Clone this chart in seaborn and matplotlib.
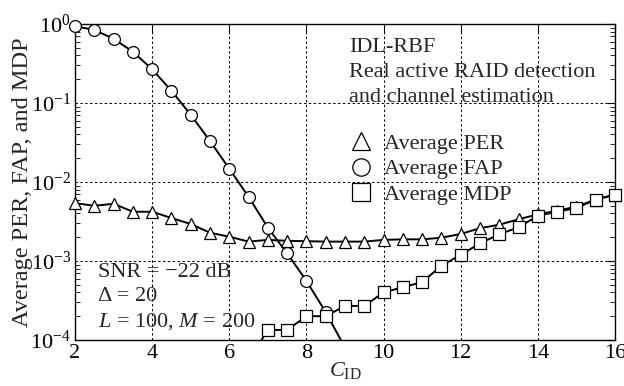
import numpy as np
import pandas as pd
import seaborn as sns
import matplotlib
matplotlib.use("Agg")
import matplotlib.pyplot as plt
from matplotlib.lines import Line2D
from matplotlib.ticker import LogLocator, MultipleLocator

# Channel-ID length sweep
c_id_per = [2, 2.5, 3, 3.5, 4, 4.5, 5, 5.5, 6, 6.5, 7, 7.5, 8, 8.5, 9, 9.5,
            10, 10.5, 11, 11.5, 12, 12.5, 13, 13.5, 14, 14.5, 15, 15.5, 16]
per = [5.4e-3, 5.0e-3, 5.3e-3, 4.2e-3, 4.2e-3, 3.5e-3, 2.94e-3, 2.28e-3, 2.03e-3,
       1.76e-3, 1.85e-3, 1.80e-3, 1.78e-3, 1.76e-3, 1.76e-3, 1.76e-3, 1.85e-3,
       1.88e-3, 1.88e-3, 1.97e-3, 2.2e-3, 2.6e-3, 2.88e-3, 3.37e-3, 3.9e-3,
       4.33e-3, 4.87e-3, 6.0e-3, 6.9e-3]

c_id_fap = [2, 2.5, 3, 3.5, 4, 4.5, 5, 5.5, 6, 6.5, 7, 7.5, 8, 8.5, 9]
fap = [0.94, 0.84, 0.65, 0.446, 0.267, 0.143, 0.071, 0.033, 0.0147, 0.0065,
       2.64e-3, 1.25e-3, 5.6e-4, 2.25e-4, 8.0e-5]

c_id_mdp = [6.5, 7, 7.5, 8, 8.5, 9, 9.5, 10, 10.5, 11, 11.5, 12, 12.5, 13,
            13.5, 14, 14.5, 15, 15.5, 16]
mdp = [5.5e-5, 1.34e-4, 1.34e-4, 2.0e-4, 2.0e-4, 2.7e-4, 2.7e-4, 4.0e-4,
       4.65e-4, 5.4e-4, 8.7e-4, 1.2e-3, 1.67e-3, 2.18e-3, 2.67e-3, 3.74e-3,
       4.2e-3, 4.69e-3, 6.0e-3, 6.9e-3]

series_names = ["Average PER", "Average FAP", "Average MDP"]
series_markers = {"Average PER": "^", "Average FAP": "o", "Average MDP": "s"}

Y_MIN, Y_MAX = 1e-4, 1.0

df = pd.concat([
    pd.DataFrame({"C_ID": c_id_per, "value": per, "series": series_names[0]}),
    pd.DataFrame({"C_ID": c_id_fap, "value": fap, "series": series_names[1]}),
    pd.DataFrame({"C_ID": c_id_mdp, "value": mdp, "series": series_names[2]}),
], ignore_index=True)

sns.set_theme(style="white")
plt.rcParams["font.family"] = ["Liberation Serif", "DejaVu Serif"]
plt.rcParams["mathtext.fontset"] = "custom"
plt.rcParams["mathtext.rm"] = "Liberation Serif"
plt.rcParams["mathtext.it"] = "Liberation Serif:italic"
plt.rcParams["mathtext.bf"] = "Liberation Serif:bold"

fig = plt.figure(figsize=(6.24, 3.86), dpi=100)
ax = fig.add_axes([0.1202, 0.1192, 0.8654, 0.8186])

for name in series_names:
    sub = df[df["series"] == name]
    # connecting line, clipped to the plotting area
    sns.lineplot(data=sub, x="C_ID", y="value", ax=ax, color="black",
                 linewidth=1.4, legend=False, estimator=None, sort=False)
    # markers inside the value range, allowed to overhang the frame
    inside = sub[(sub["value"] >= Y_MIN) & (sub["value"] <= Y_MAX)]
    sns.lineplot(data=inside, x="C_ID", y="value", ax=ax, color="black",
                 linestyle="none", marker=series_markers[name], markersize=8.5,
                 markerfacecolor="white", markeredgecolor="black",
                 markeredgewidth=0.9, legend=False, estimator=None, sort=False,
                 clip_on=False, zorder=4)

ax.set_yscale("log")
ax.set_xlim(2, 16)
ax.set_ylim(Y_MIN, Y_MAX)
ax.xaxis.set_major_locator(MultipleLocator(2))
ax.yaxis.set_major_locator(LogLocator(base=10, numticks=10))
ax.yaxis.set_minor_locator(LogLocator(base=10, subs=np.arange(2, 10), numticks=10))

ax.grid(True, which="major", color="black", linestyle=(0, (2.5, 2.5)), linewidth=0.7)
for s in ax.spines.values():
    s.set_color("black")
    s.set_linewidth(1.0)
    s.set_zorder(3)

ax.tick_params(axis="both", which="major", direction="in", length=6, width=0.8,
               top=True, right=True, labelsize=16, colors="black", pad=3)
ax.tick_params(axis="y", which="minor", direction="in", length=3.5, width=0.7,
               left=True, right=True)

ax.set_xlabel(r"$C_{\mathrm{ID}}$", fontsize=16, labelpad=-2)
ax.set_ylabel("Average PER, FAP, and MDP", fontsize=17.5, labelpad=-2)

ax.text(0.507, 0.955, "IDL-RBF\nReal active RAID detection\nand channel estimation",
        transform=ax.transAxes, fontsize=16, va="top", ha="left",
        linespacing=1.42)

ax.text(0.042, 0.243, "SNR = \u221222 dB\n\u0394 = 20\n$L$ = 100, $M$ = 200",
        transform=ax.transAxes, fontsize=16, va="top", ha="left",
        linespacing=1.32)

handles = [Line2D([], [], linestyle="none", marker=series_markers[n], markersize=12.5,
                  markerfacecolor="white", markeredgecolor="black",
                  markeredgewidth=0.9) for n in series_names]
ax.legend(handles, series_names, loc="center left", bbox_to_anchor=(0.509, 0.541),
          frameon=False, fontsize=16, handlelength=1.0, handletextpad=0.55,
          labelspacing=0.22, borderpad=0.0, borderaxespad=0.0)

fig.savefig("out.png", dpi=100)
